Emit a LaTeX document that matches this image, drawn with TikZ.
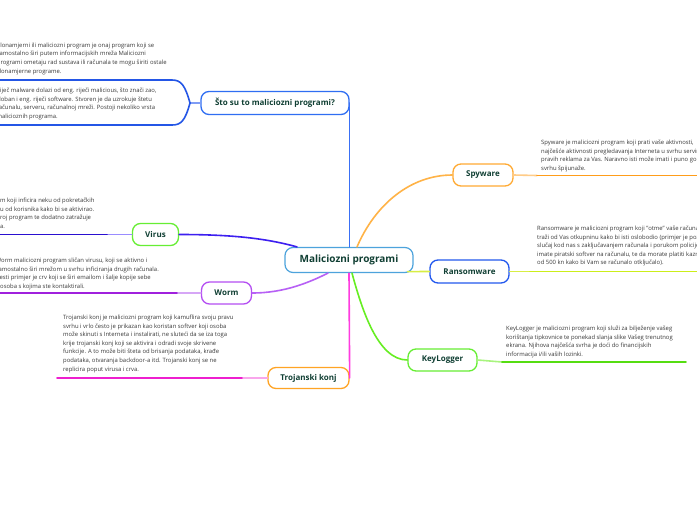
\documentclass[tikz,border=0pt]{standalone}
\usepackage{fontspec}
\setmainfont{Open Sans}
\definecolor{labelc}{HTML}{103F33}
\definecolor{notec}{HTML}{3A3A3A}
\definecolor{centerc}{HTML}{4DA3DC}
\definecolor{stoc}{HTML}{2F6EF2}
\definecolor{stoline}{HTML}{2456E6}
\definecolor{stovert}{HTML}{3A70F5}
\definecolor{stolight}{HTML}{7F9CF5}
\definecolor{greenbox}{HTML}{66EE33}
\definecolor{virusline}{HTML}{3D1FF0}
\definecolor{virusdark}{HTML}{2A0FD0}
\definecolor{viruslight}{HTML}{9A8CFF}
\definecolor{wormbox}{HTML}{B44EF2}
\definecolor{wormline}{HTML}{B760F5}
\definecolor{wormdark}{HTML}{A020DD}
\definecolor{wormlight}{HTML}{D6A6F6}
\definecolor{trojbox}{HTML}{FFA424}
\definecolor{trojline}{HTML}{FF3CE0}
\definecolor{trojdark}{HTML}{EE1FCF}
\definecolor{trojlight}{HTML}{F9A6EC}
\definecolor{spybox}{HTML}{FFAA33}
\definecolor{spyline}{HTML}{FFB347}
\definecolor{spydark}{HTML}{FF9D1A}
\definecolor{spylight}{HTML}{FFCC88}
\definecolor{ransbox}{HTML}{2258EE}
\definecolor{ransline}{HTML}{D8EE44}
\definecolor{ransdark}{HTML}{CCEE1A}
\definecolor{keyline}{HTML}{66EE22}
\definecolor{keylight}{HTML}{A8F47E}
\definecolor{keydark}{HTML}{55DD11}
\begin{document}
\begin{tikzpicture}[x=1pt,y=-1pt,
  topic/.style={draw, rounded corners=8pt, line width=1.3pt, fill=white,
    font=\bfseries\fontsize{8}{9}\selectfont, text=labelc, inner sep=0pt,
    minimum height=22pt, anchor=center},
  note/.style={anchor=north west, inner sep=0pt, align=left,
    font=\fontsize{5.9}{8.6}\selectfont, text=notec},
  conn/.style={line width=1.6pt, line cap=round},
]
\useasboundingbox (0,0) rectangle (697,520);
\fill[white] (0,0) rectangle (697,520);
\clip (0,0) rectangle (697,520);

% topic nodes
\node[topic, draw=centerc, line width=1.2pt, minimum width=128pt, minimum height=25pt,
  font=\bfseries\fontsize{10}{12}\selectfont] (center) at (349,260) {Maliciozni programi};
\node[topic, draw=stoc, minimum width=148pt, minimum height=23pt] (sto) at (275,103) {Što su to maliciozni programi?};
\node[topic, draw=greenbox, minimum width=46pt] (virus) at (155.5,234.5) {Virus};
\node[topic, draw=wormbox, minimum width=50pt] (worm) at (226.5,293) {Worm};
\node[topic, draw=trojbox, minimum width=81pt, minimum height=21pt] (trojan) at (308.5,378) {Trojanski konj};
\node[topic, draw=spybox, minimum width=60pt] (spyware) at (483,175) {Spyware};
\node[topic, draw=ransbox, minimum width=79pt, minimum height=23pt] (ransomware) at (469.5,271.5) {Ransomware};
\node[topic, draw=greenbox, minimum width=69pt] (keylogger) at (442.5,360) {KeyLogger};

% notes
\node[note] (n1) at (-3.3,42.7) {Zlonamjerni ili maliciozni program je onaj program koji se\\
samostalno širi putem informacijskih mreža Maliciozni\\
programi ometaju rad sustava ili računala te mogu širiti ostale\\
zlonamjerne programe.};
\node[note] (n2) at (-3.6,87.7) {Riječ malware dolazi od eng. riječi malicious, što znači zao,\\
zloban i eng. riječi software. Stvoren je da uzrokuje štetu\\
računalu, serveru, računalnoj mreži. Postoji nekoliko vrsta\\
malicioznih programa.};
\node[note] (nv) at (0,197.7) {m koji inficira neku od pokretačkih\\
u od korisnika kako bi se aktivirao.\\
roj program te dodatno zatražuje\\
a.};
\node[note] (nw) at (-4.3,257.7) {Worm maliciozni program sličan virusu, koji se aktivno i\\
samostalno širi mrežom u svrhu inficiranja drugih računala.\\
Česti primjer je crv koji se širi emailom i šalje kopije sebe\\
\hspace*{4.3pt}osoba s kojima ste kontaktirali.};
\node[note] (nt) at (63,314.7) {Trojanski konj je maliciozni program koji kamuflira svoju pravu\\
svrhu i vrlo često je prikazan kao koristan softver koji osoba\\
može skinuti s Interneta i instalirati, ne sluteći da se iza toga\\
krije trojanski konj koji se aktivira i odradi svoje skrivene\\
funkcije. A to može biti šteta od brisanja podataka, krađe\\
podataka, otvaranja backdoor-a itd. Trojanski konj se ne\\
replicira poput virusa i crva.};
\node[note] (ns) at (541,139.7) {Spyware je maliciozni program koji prati vaše aktivnosti,\\
najčešće aktivnosti pregledavanja Interneta u svrhu serviranja\\
pravih reklama za Vas. Naravno isti može imati i puno gore\\
svrhu špijunaže.};
\node[note] (nr) at (537,225.7) {Ransomware je maliciozni program koji "otme" vaše računalo i\\
traži od Vas otkupninu kako bi isti oslobodio (primjer je poznati\\
slučaj kod nas s zaključavanjem računala i porukom policije da\\
imate piratski softver na računalu, te da morate platiti kaznu\\
od 500 kn kako bi Vam se računalo otključalo).};
\node[note] (nk) at (506,325.7) {KeyLogger je maliciozni program koji služi za bilježenje vašeg\\
korištanja tipkovnice te ponekad slanja slike Vašeg trenutnog\\
ekrana. Njihova najčešća svrha je doći do financijskih\\
informacija i/ili vaših lozinki.};

% coordinates for underline ends
\coordinate (bk) at (190,103);
\coordinate (u1) at (0,80);
\coordinate (u2) at (0,125);
\coordinate (vmid) at (107,234.5);
\coordinate (vend) at (0,234.5);
\coordinate (wmid) at (177,293);
\coordinate (wend) at (0,293);
\coordinate (tmid) at (242,378);
\coordinate (tend) at (57,378);
\coordinate (smid) at (537,175.5);
\coordinate (send) at (697,175.5);
\coordinate (rmid) at (530,271.5);
\coordinate (rend) at (697,271.5);
\coordinate (kmid) at (502,362);
\coordinate (kend) at (686,362);

% connectors from center
\draw[conn, draw=stovert] (sto.east) -- (sto.east |- center.north);
\draw[conn, draw=virusline] ([xshift=-52pt]center.north) .. controls (265,238) and (230,234.5) .. (virus.east);
\draw[conn, draw=wormline] ([xshift=-21pt]center.south) .. controls (310,282) and (285,293) .. (worm.east);
\draw[conn, draw=trojline] (center.south) -- (trojan.east);
\draw[conn, draw=spyline] ([xshift=8pt]center.north) .. controls (375,205) and (410,175) .. (spyware.west);
\draw[conn, draw=ransline] ([xshift=-6pt,yshift=1.5pt]center.south east) -- (ransomware.west);
\draw[conn, draw=keyline] ([xshift=3pt]center.south) .. controls (362,310) and (378,360) .. (keylogger.west);

% underlines and note connectors
\draw[conn, draw=stolight] (sto.west) -- (bk);
\draw[conn, draw=stoline] (bk) .. controls (185,85) and (181,80) .. (172,80) -- (u1);
\draw[conn, draw=stoline] (bk) .. controls (185,121) and (181,125) .. (172,125) -- (u2);
\draw[conn, draw=viruslight] (virus.west) -- (vmid);
\draw[conn, draw=virusdark] (vmid) -- (vend);
\draw[conn, draw=wormlight] (worm.west) -- (wmid);
\draw[conn, draw=wormdark] (wmid) -- (wend);
\draw[conn, draw=trojlight] (trojan.west) -- (tmid);
\draw[conn, draw=trojdark] (tmid) -- (tend);
\draw[conn, draw=spylight] (spyware.east) -- (smid);
\draw[conn, draw=spydark] (smid) -- (send);
\draw[conn, draw=ransline] (ransomware.east) -- (rmid);
\draw[conn, draw=ransdark] (rmid) -- (rend);
\draw[conn, draw=keylight] (keylogger.east) -- (kmid);
\draw[conn, draw=keydark] (kmid) -- (kend);
\end{tikzpicture}
\end{document}
